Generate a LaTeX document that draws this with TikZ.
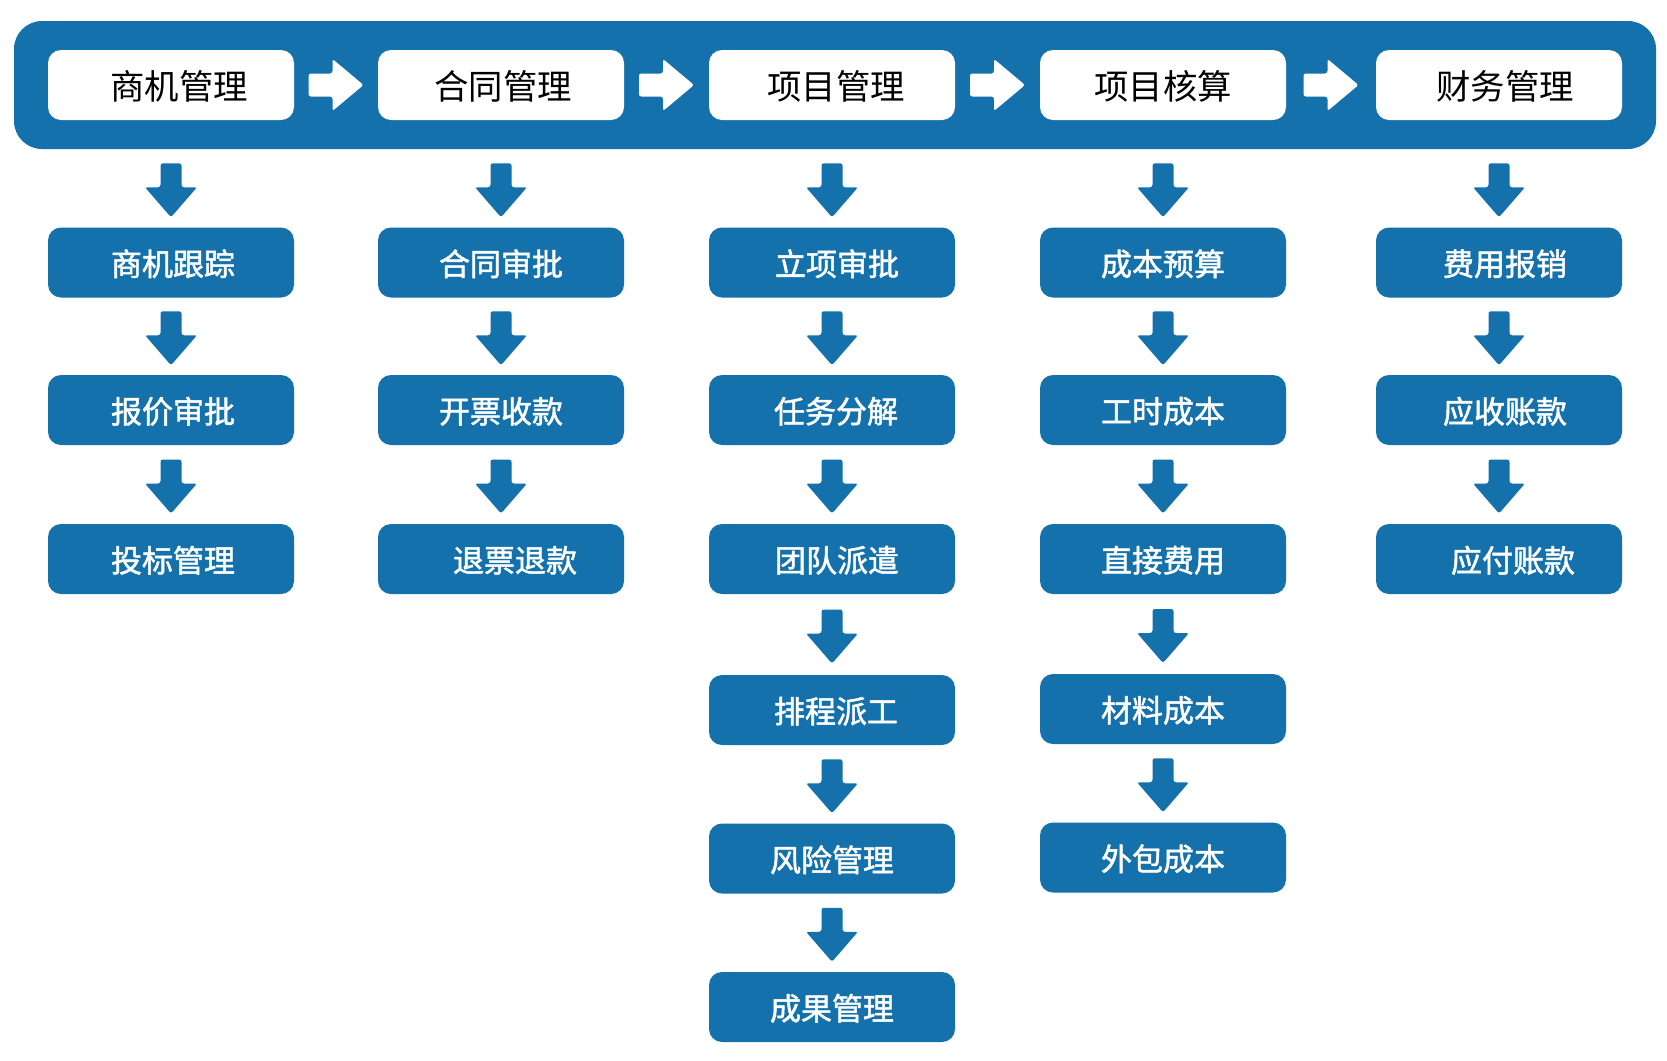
\documentclass[tikz,border=0pt]{standalone}
\usepackage{fontspec}
\setmainfont{Noto Sans CJK SC}
\newfontfamily\cjkmed{Noto Sans CJK SC}[FakeBold=1.6]
\usetikzlibrary{calc}
\definecolor{bandblue}{RGB}{20,113,171}
\newcommand{\shtxt}[2]{\hspace*{#1}#2}
\tikzset{
  x=0.5pt, y=-0.5pt,
  topbox/.style={fill=white, rounded corners=6.5pt, minimum width=123pt, minimum height=35pt,
    inner sep=0pt, text=black, font=\fontsize{17.2}{18}\selectfont, text depth=-1.6pt},
  subbox/.style={fill=bandblue, rounded corners=6.5pt, minimum width=123pt, minimum height=35pt,
    inner sep=0pt, text=white, font=\fontsize{15.5}{18}\cjkmed, text depth=-1pt},
  pics/downarr/.style={code={
    \fill[bandblue, rounded corners=1.2pt] (-10.5,-27) -- (10.5,-27) -- (10.5,-3) -- (26,-3) -- (0,27) -- (-26,-3) -- (-10.5,-3) -- cycle;}},
  pics/rightarr/.style={code={
    \fill[white, rounded corners=1.2pt] (-27.5,-11.5) -- (-3.5,-11.5) -- (-3.5,-26) -- (27.5,0) -- (-3.5,26) -- (-3.5,11.5) -- (-27.5,11.5) -- cycle;}},
}
\begin{document}
\begin{tikzpicture}
\useasboundingbox (0,0) rectangle (1667,1061);
\fill[white] (0,0) rectangle (1667,1061);
% band
\node[fill=bandblue, rounded corners=14pt, minimum width=821pt, minimum height=64pt, inner sep=0pt] (band) at (835,85) {};
% top boxes
\node[topbox] (t1) at (171,85)  {\shtxt{8pt}{商机管理}};
\node[topbox] (t2) at (501,85)  {\shtxt{2pt}{合同管理}};
\node[topbox] (t3) at (832,85)  {\shtxt{4pt}{项目管理}};
\node[topbox] (t4) at (1163,85) {项目核算};
\node[topbox] (t5) at (1499,85) {\shtxt{6pt}{财务管理}};
% column 1
\node[subbox] (a1) at (171,262.5) {\shtxt{2pt}{商机跟踪}};
\node[subbox] (a2) at (171,410)   {\shtxt{2pt}{报价审批}};
\node[subbox] (a3) at (171,559)   {\shtxt{2pt}{投标管理}};
% column 2
\node[subbox] (b1) at (501,262.5) {合同审批};
\node[subbox] (b2) at (501,410)   {开票收款};
\node[subbox] (b3) at (501,559)   {\shtxt{14pt}{退票退款}};
% column 3
\node[subbox] (c1) at (832,262.5) {\shtxt{5pt}{立项审批}};
\node[subbox] (c2) at (832,410)   {\shtxt{4pt}{任务分解}};
\node[subbox] (c3) at (832,559)   {\shtxt{5pt}{团队派遣}};
\node[subbox] (c4) at (832,710)   {\shtxt{4pt}{排程派工}};
\node[subbox] (c5) at (832,858.5) {风险管理};
\node[subbox] (c6) at (832,1007)  {成果管理};
% column 4
\node[subbox] (d1) at (1163,262.5) {成本预算};
\node[subbox] (d2) at (1163,410)   {工时成本};
\node[subbox] (d3) at (1163,559)   {直接费用};
\node[subbox] (d4) at (1163,709)   {材料成本};
\node[subbox] (d5) at (1163,857.5) {外包成本};
% column 5
\node[subbox] (e1) at (1499,262.5) {\shtxt{6pt}{费用报销}};
\node[subbox] (e2) at (1499,410)   {\shtxt{6pt}{应收账款}};
\node[subbox] (e3) at (1499,559)   {\shtxt{14pt}{应付账款}};
% right arrows
\foreach \p/\q in {t1/t2,t2/t3,t3/t4,t4/t5}
  \path ($(\p.east)!0.5!(\q.west)$) pic {rightarr};
% down arrows from band
\foreach \c/\f in {t1/a1,t2/b1,t3/c1,t4/d1,t5/e1}
  \path ($(band.south -| \c)!0.5!(\f.north)$) ++(0,2) pic {downarr};
% down arrows between boxes
\foreach \p/\q in {a1/a2,a2/a3,b1/b2,b2/b3,c1/c2,c2/c3,c3/c4,c4/c5,c5/c6,d1/d2,d2/d3,d3/d4,d4/d5,e1/e2,e2/e3}
  \path ($(\p.south)!0.5!(\q.north)$) ++(0,2) pic {downarr};
\end{tikzpicture}
\end{document}
